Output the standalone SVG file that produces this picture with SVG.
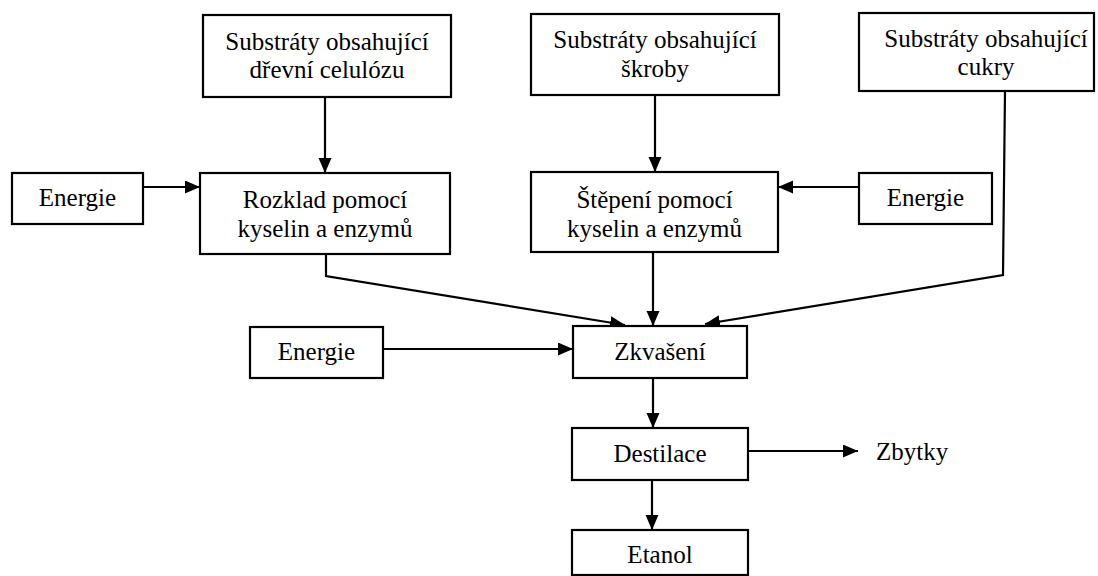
<svg xmlns="http://www.w3.org/2000/svg" width="1098" height="576" viewBox="0 0 1098 576">
<style>
.box{fill:#fff;stroke:#000;stroke-width:2.2}
.t{font-family:"Liberation Serif","Times New Roman",serif;font-size:25px;fill:#000;text-anchor:middle}
.c{fill:none;stroke:#000;stroke-width:2.2}
</style>
<defs>
<marker id="ah" markerUnits="userSpaceOnUse" markerWidth="16" markerHeight="14" refX="15" refY="6.5" orient="auto">
<path d="M0,0 L15,6.5 L0,13 Z" fill="#000"/>
</marker>
</defs>
<rect width="1098" height="576" fill="#fff"/>
<g id="connectors">
<line class="c" x1="325" y1="97" x2="325" y2="173" marker-end="url(#ah)"/>
<line class="c" x1="655" y1="95" x2="655" y2="172" marker-end="url(#ah)"/>
<line class="c" x1="143" y1="187" x2="200" y2="187" marker-end="url(#ah)"/>
<line class="c" x1="859" y1="187" x2="778" y2="187" marker-end="url(#ah)"/>
<polyline class="c" points="326,254 326,276 625,325" marker-end="url(#ah)"/>
<line class="c" x1="653" y1="252" x2="653" y2="326" marker-end="url(#ah)"/>
<polyline class="c" points="1005,91 1003,275 705,324" marker-end="url(#ah)"/>
<line class="c" x1="383" y1="349" x2="573" y2="349" marker-end="url(#ah)"/>
<line class="c" x1="653" y1="378" x2="653" y2="428" marker-end="url(#ah)"/>
<line class="c" x1="748" y1="451" x2="858" y2="451" marker-end="url(#ah)"/>
<line class="c" x1="652" y1="480" x2="652" y2="530" marker-end="url(#ah)"/>
</g>
<g id="sub-celuloza">
<rect class="box" x="203" y="15" width="248" height="82"/>
<text class="t" x="327" y="50">Substráty obsahující</text>
<text class="t" x="327" y="78">dřevní celulózu</text>
</g>
<g id="sub-skroby">
<rect class="box" x="531" y="14" width="248" height="81"/>
<text class="t" x="655" y="48">Substráty obsahující</text>
<text class="t" x="655" y="77">škroby</text>
</g>
<g id="sub-cukry">
<rect class="box" x="859" y="13" width="235" height="78"/>
<text class="t" x="986" y="47">Substráty obsahující</text>
<text class="t" x="986" y="75">cukry</text>
</g>
<g id="energie1">
<rect class="box" x="12" y="173" width="131" height="51"/>
<text class="t" x="77.5" y="206">Energie</text>
</g>
<g id="rozklad">
<rect class="box" x="200" y="173" width="250" height="81"/>
<text class="t" x="325" y="208">Rozklad pomocí</text>
<text class="t" x="325" y="237">kyselin a enzymů</text>
</g>
<g id="stepeni">
<rect class="box" x="531" y="172" width="247" height="80"/>
<text class="t" x="654.5" y="208">Štěpení pomocí</text>
<text class="t" x="654.5" y="237">kyselin a enzymů</text>
</g>
<g id="energie2">
<rect class="box" x="859" y="173" width="133" height="51"/>
<text class="t" x="925.5" y="206">Energie</text>
</g>
<g id="energie3">
<rect class="box" x="250" y="327" width="133" height="51"/>
<text class="t" x="316.5" y="360">Energie</text>
</g>
<g id="zkvaseni">
<rect class="box" x="573" y="326" width="174" height="52"/>
<text class="t" x="660" y="360">Zkvašení</text>
</g>
<g id="destilace">
<rect class="box" x="572" y="428" width="176" height="52"/>
<text class="t" x="660" y="462">Destilace</text>
</g>
<g id="zbytky">
<text class="t" x="876" y="460" style="text-anchor:start">Zbytky</text>
</g>
<g id="etanol">
<rect class="box" x="572" y="530" width="176" height="45"/>
<text class="t" x="660" y="563">Etanol</text>
</g>
</svg>
